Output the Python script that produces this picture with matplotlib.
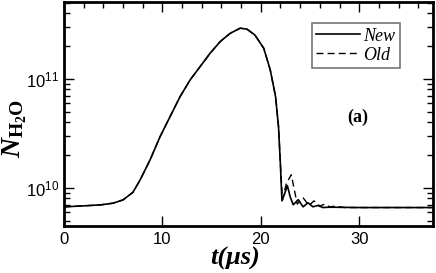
import matplotlib
matplotlib.use("Agg")
import math
import matplotlib.pyplot as plt
from matplotlib.ticker import FixedLocator, LogLocator, NullFormatter, FuncFormatter

plt.rcParams['mathtext.fontset'] = 'custom'
plt.rcParams['mathtext.rm'] = 'Liberation Serif:bold'
plt.rcParams['mathtext.it'] = 'Liberation Serif:italic:bold'
plt.rcParams['mathtext.sf'] = 'Liberation Sans'
plt.rcParams['font.family'] = ['Liberation Sans', 'DejaVu Sans']

# data (t in microseconds)
t_rise = [0, 2.0, 3.7, 5.0, 6.0, 7.0, 7.73, 8.75, 9.77, 10.78, 11.8, 12.82, 13.84,
          14.85, 15.87, 16.89, 17.9, 18.6, 19.4, 20.3, 20.96, 21.5, 21.8, 21.97]
n_rise = [6.7e9, 6.84e9, 6.98e9, 7.24e9, 7.76e9, 9.1e9, 1.18e10, 1.81e10, 2.96e10,
          4.51e10, 6.89e10, 9.8e10, 1.30e11, 1.72e11, 2.20e11, 2.62e11, 2.92e11,
          2.86e11, 2.53e11, 1.91e11, 1.21e11, 6.89e10, 3.65e10, 1.81e10]

t_new_tail = [22.15, 22.45, 22.7, 23.0, 23.3, 23.8, 24.3, 24.8, 25.3, 25.8, 26.3,
              27.0, 30.0, 37.5]
n_new_tail = [7.6e9, 9.0e9, 1.05e10, 8.2e9, 7.0e9, 7.8e9, 6.7e9, 7.3e9, 6.7e9,
              6.9e9, 6.6e9, 6.65e9, 6.6e9, 6.6e9]

t_old_tail = [22.2, 22.6, 23.1, 23.7, 24.3, 24.9, 25.4, 26.0, 26.5, 27.0, 27.6,
              28.5, 30.0, 37.5]
n_old_tail = [7.8e9, 1.1e10, 1.32e10, 7.1e9, 8.1e9, 6.9e9, 7.6e9, 6.8e9, 7.1e9,
              6.7e9, 6.8e9, 6.6e9, 6.6e9, 6.6e9]

t_new = t_rise + t_new_tail
n_new = n_rise + n_new_tail
t_old = t_rise + t_old_tail
n_old = n_rise + n_old_tail

x_major = [0, 10, 20, 30]
x_top_minor = [2, 4, 6, 8, 12, 14, 16, 18, 22, 24, 26, 28, 32, 34, 36]
series_labels = ['New', 'Old']

fig = plt.figure(figsize=(4.36, 2.73), dpi=100)
ax = fig.add_axes([0.1468, 0.1722, 0.8463, 0.8205])

ax.plot(t_new, n_new, color='black', lw=1.2, ls='-', label=series_labels[0])
ax.plot(t_old, n_old, color='black', lw=1.0, ls=(0, (5, 3)), label=series_labels[1])

ax.set_yscale('log')
ax.set_xlim(0, 37.5)
ax.set_ylim(4.47e9, 5.08e11)

ax.xaxis.set_major_locator(FixedLocator(x_major))
ax.yaxis.set_major_locator(LogLocator(base=10))
ax.yaxis.set_minor_locator(LogLocator(base=10, subs=range(2, 10)))
ax.yaxis.set_minor_formatter(NullFormatter())

def yfmt(v, pos):
    e = int(round(math.log10(v)))
    return r'$\mathsf{10^{%d}}$' % e
ax.yaxis.set_major_formatter(FuncFormatter(yfmt))

ax.tick_params(axis='both', which='major', direction='in', length=7, width=1,
               labelsize=12, top=True, right=True)
ax.tick_params(axis='y', which='minor', direction='in', length=4, width=1,
               right=True)
ax.tick_params(axis='x', which='major', pad=4)

# top minor ticks only
sec = ax.secondary_xaxis('top')
sec.set_xticks(x_top_minor)
sec.tick_params(direction='in', length=4, width=1, labeltop=False)
sec.set_xticklabels([])
sec.spines['top'].set_visible(False)

for s in ax.spines.values():
    s.set_linewidth(2)

fig.text(235 / 436, 1 - 258 / 273, 't(μs)', ha='center', va='center',
         fontsize=19, fontweight='bold', fontstyle='italic', family='Liberation Serif')
fig.text(15 / 436, 1 - 128 / 273, r'$N_{\mathrm{H_2O}}$', ha='center', va='center',
         rotation=90, fontsize=20)

leg = ax.legend(loc='upper left', bbox_to_anchor=(0.672, 0.905),
                prop={'family': 'Liberation Serif', 'style': 'italic', 'size': 13},
                handlelength=2.4, handletextpad=0.2, borderpad=0.25,
                labelspacing=0.1, fancybox=False, framealpha=1, borderaxespad=0)
leg.get_frame().set_edgecolor('#777777')
leg.get_frame().set_linewidth(1.2)

ax.text(0.797, 0.487, '(a)', transform=ax.transAxes, ha='center', va='center',
        fontsize=13, fontweight='bold', family='Liberation Serif')

fig.savefig('out.png', dpi=100)
